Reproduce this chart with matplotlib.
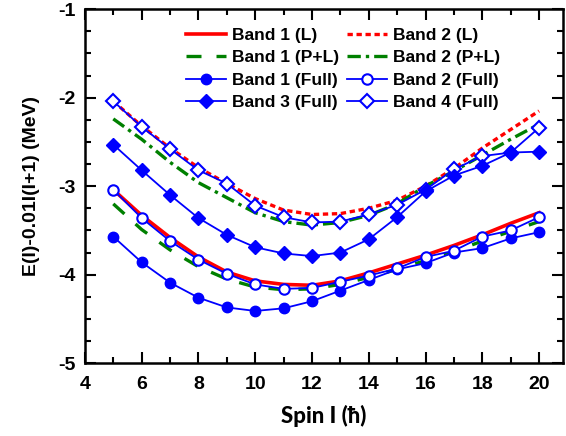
import matplotlib.pyplot as plt
from matplotlib.ticker import MultipleLocator

spin = [5, 6, 7, 8, 9, 10, 11, 12, 13, 14, 15, 16, 17, 18, 19, 20]

band1_L = [-3.04, -3.33, -3.58, -3.80, -3.97, -4.07, -4.11, -4.12, -4.07, -3.98, -3.88, -3.78, -3.67, -3.55, -3.42, -3.30]
band2_L = [-2.04, -2.32, -2.57, -2.79, -2.97, -3.14, -3.27, -3.32, -3.31, -3.25, -3.16, -3.00, -2.80, -2.57, -2.36, -2.15]
band1_PL = [-3.20, -3.49, -3.72, -3.91, -4.05, -4.14, -4.17, -4.16, -4.11, -4.03, -3.94, -3.84, -3.74, -3.62, -3.51, -3.40]
band2_PL = [-2.24, -2.47, -2.73, -2.96, -3.13, -3.30, -3.40, -3.44, -3.41, -3.33, -3.20, -3.00, -2.83, -2.65, -2.47, -2.30]
band1_full = [-3.57, -3.86, -4.09, -4.26, -4.37, -4.41, -4.38, -4.30, -4.18, -4.06, -3.94, -3.87, -3.75, -3.70, -3.59, -3.52]
band2_full = [-3.04, -3.36, -3.62, -3.83, -3.99, -4.11, -4.16, -4.15, -4.08, -4.01, -3.93, -3.80, -3.73, -3.57, -3.50, -3.35]
band3_full = [-2.53, -2.82, -3.10, -3.36, -3.55, -3.69, -3.76, -3.79, -3.75, -3.60, -3.35, -3.06, -2.88, -2.77, -2.62, -2.61]
band4_full = [-2.04, -2.33, -2.58, -2.82, -2.97, -3.22, -3.35, -3.41, -3.40, -3.32, -3.21, -3.04, -2.81, -2.66, -2.62, -2.34]

xticks = [4, 6, 8, 10, 12, 14, 16, 18, 20]
yticks = [-5, -4, -3, -2, -1]

plt.rcParams['font.family'] = ['Liberation Sans', 'DejaVu Sans']
plt.rcParams['font.weight'] = 'bold'

fig = plt.figure(figsize=(5.66, 4.36), dpi=100)
ax = fig.add_axes([0.150, 0.167, 0.845, 0.812])

blue = '#0000ff'
l1, = ax.plot(spin, band1_L, color='red', lw=2.6, label='Band 1 (L)')
l2, = ax.plot(spin, band2_L, color='red', lw=2.4, ls=(0, (1.6, 1.1)), label='Band 2 (L)')
l3, = ax.plot(spin, band1_PL, color='green', lw=2.4, ls=(0, (4.5, 4.5)), label='Band 1 (P+L)')
l4, = ax.plot(spin, band2_PL, color='green', lw=2.4, ls=(0, (4, 1.5, 1, 1.5)), label='Band 2 (P+L)')
l5, = ax.plot(spin, band1_full, color=blue, lw=1.3, marker='o', ms=7.5, label='Band 1 (Full)')
l6, = ax.plot(spin, band2_full, color=blue, lw=1.3, marker='o', ms=7.5, mfc='white', mew=1.5, label='Band 2 (Full)')
# band 4 under band 3, the filled diamond covers it at spin 19
l8, = ax.plot(spin, band4_full, color=blue, lw=1.3, marker='D', ms=7, mfc='white', mew=1.5, label='Band 4 (Full)')
l7, = ax.plot(spin, band3_full, color=blue, lw=1.3, marker='D', ms=7, label='Band 3 (Full)')

ax.set_xlim(4, 20.85)
ax.set_ylim(-5, -1)
ax.set_xticks(xticks, [str(t) for t in xticks], fontweight='bold', fontsize=14)
ax.set_yticks(yticks, [str(t) for t in yticks], fontweight='bold', fontsize=14)
ax.xaxis.set_minor_locator(MultipleLocator(1))
ax.yaxis.set_minor_locator(MultipleLocator(0.25))
ax.tick_params(which='both', direction='in', top=True, right=True, width=1.5)
ax.tick_params(which='major', length=8)
ax.tick_params(which='minor', length=4.5)
ax.tick_params(axis='x', which='major', pad=9)
ax.tick_params(axis='y', which='major', pad=7)
for s in ax.spines.values():
    s.set_linewidth(1.8)

ax.set_xlabel('Spin I (ħ)', family='Lato', fontweight='black', fontsize=16, labelpad=9)
ax.set_ylabel('E(I)-0.01I(I+1) (MeV)', fontsize=14, fontweight='bold', labelpad=13)

# legend filled row by row: left column bands 1/1/1/3, right column 2/2/2/4
handles = [l1, l3, l5, l7, l2, l4, l6, l8]
ax.legend(handles=handles, ncol=2, frameon=False, loc='upper left',
          bbox_to_anchor=(0.211, 0.947), borderpad=0, borderaxespad=0,
          handlelength=2.3, handletextpad=0.35, columnspacing=0.45,
          labelspacing=0.41, prop={'weight': 'bold', 'size': 12.5})

fig.savefig('out.png', dpi=100)
